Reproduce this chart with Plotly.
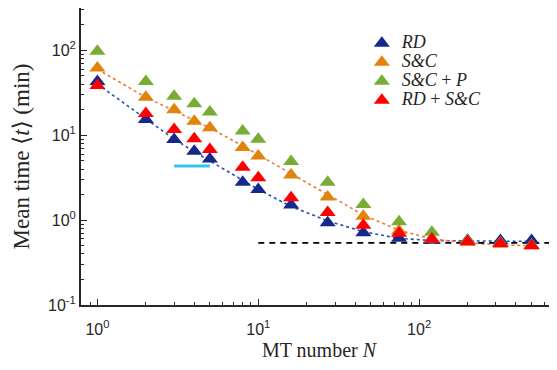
import plotly.graph_objects as go

# ---- data ----
N = [1, 2, 3, 4, 5, 8, 10, 16, 27, 45, 75, 120, 200, 320, 500]
t_rd = [43, 15.3, 8.9, 6.5, 5.25, 2.8, 2.3, 1.51, 0.93, 0.71, 0.61, 0.58, 0.58, 0.575, 0.575]
t_sc = [62, 28, 20, 14.6, 12.3, 7.2, 5.7, 3.4, 1.88, 1.11, 0.75, 0.60, 0.55, 0.52, 0.50]
t_scp = [98, 43, 28.8, 23.6, 18.8, 11.2, 9.0, 4.9, 2.8, 1.53, 0.955, 0.72, 0.57, 0.54, 0.51]
t_rdsc = [38.5, 18, 11.7, 9.1, 6.8, 4.2, 3.15, 1.83, 1.23, 0.87, 0.70, 0.60, 0.556, 0.53, 0.50]

fit_rd = [40, 15.5, 9.0, 6.4, 5.0, 2.95, 2.3, 1.45, 0.98, 0.73, 0.61, 0.575, 0.565, 0.565, 0.565]
fit_sc = [60, 28, 19.5, 15, 12.2, 7.5, 5.9, 3.5, 2.0, 1.15, 0.76, 0.60, 0.54, 0.51, 0.50]

plateau_x = [10, 720]
plateau_y = [0.54, 0.54]
cyan_x = [3, 5]
cyan_y = [4.35, 4.35]

x_tickvals = [1, 10, 100]
x_ticktext = ["10<sup>0</sup>", "10<sup>1</sup>", "10<sup>2</sup>"]
y_tickvals = [0.1, 1, 10, 100]
y_ticktext = ["10<sup>-1</sup>", "10<sup>0</sup>", "10<sup>1</sup>", "10<sup>2</sup>"]

names = ["<i>RD</i>", "<i>S&C</i>", "<i>S&C</i> + <i>P</i>", "<i>RD</i> + <i>S&C</i>"]
colors = ["#16288C", "#E0840C", "#78AC34", "#FF0000"]
series = [t_rd, t_sc, t_scp, t_rdsc]

SERIF = "Liberation Serif, DejaVu Serif, serif"

fig = go.Figure()

# fit lines (behind markers)
fig.add_trace(go.Scatter(x=N, y=fit_rd, mode="lines", showlegend=False,
                         line=dict(color="#2E4CB0", width=1.6, dash="dot")))
fig.add_trace(go.Scatter(x=N, y=fit_sc, mode="lines", showlegend=False,
                         line=dict(color="#F0783C", width=1.6, dash="dot")))
fig.add_trace(go.Scatter(x=plateau_x, y=plateau_y, mode="lines", showlegend=False,
                         line=dict(color="black", width=1.8, dash="6px,5px")))
fig.add_trace(go.Scatter(x=cyan_x, y=cyan_y, mode="lines", showlegend=False,
                         line=dict(color="#33C3F0", width=3)))

for name, col, vals in zip(names, colors, series):
    fig.add_trace(go.Scatter(x=N, y=vals, mode="markers",
                             name="<span style=\"font-family:'Liberation Serif',serif;font-size:18px\">" + name + "</span>",
                             marker=dict(symbol="triangle-up", size=14, color=col,
                                         line=dict(width=0))))

axis_common = dict(
    type="log", showgrid=False, zeroline=False, showline=True, automargin=False,
    linecolor="#262626", linewidth=2, ticks="inside", ticklen=6,
    tickwidth=1.2, tickcolor="#262626", tickmode="array",
    tickfont=dict(family="Liberation Sans, Arial, sans-serif", size=16, color="#262626"),
    minor=dict(ticks="inside", ticklen=3, tickwidth=1, tickcolor="#262626", dtick="D1", showgrid=False),
)

fig.update_xaxes(**axis_common, range=[-0.102, 2.857],
                 tickvals=x_tickvals, ticktext=x_ticktext, ticklabelstandoff=9,
                 title=dict(text="MT number <i>N</i>",
                            font=dict(family=SERIF, size=20, color="#262626"),
                            standoff=6))
fig.update_yaxes(**axis_common, range=[-1, 2.5],
                 tickvals=y_tickvals, ticktext=y_ticktext,
                 title=dict(text="Mean time \u27e8<i>t</i>\u27e9 (min)",
                            font=dict(family=SERIF, size=23, color="#262626"),
                            standoff=12))

# the page body adds an 8px offset, so the figure is sized/positioned to compensate
fig.update_layout(
    width=549, height=362,
    margin=dict(l=73, r=0, t=0, b=65),
    paper_bgcolor="white", plot_bgcolor="white",
    legend=dict(x=0.59, y=0.93, xanchor="left", yanchor="top",
                bgcolor="rgba(0,0,0,0)", tracegroupgap=0,
                font=dict(family=SERIF, size=12, color="#262626")),
)

fig.write_html("out.html")
